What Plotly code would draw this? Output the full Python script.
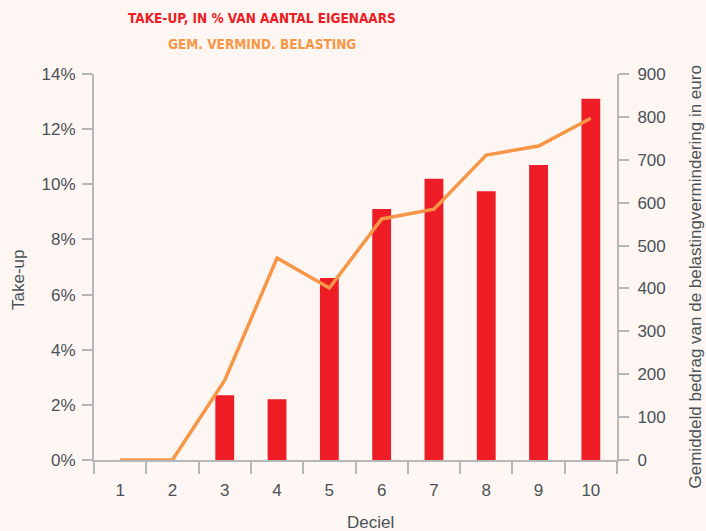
import plotly.graph_objects as go

deciles = ["1", "2", "3", "4", "5", "6", "7", "8", "9", "10"]
take_up_pct = [0, 0, 2.35, 2.2, 6.6, 9.1, 10.2, 9.75, 10.7, 13.1]
avg_reduction_eur = [0, 0, 186, 471, 401, 562, 585, 711, 732, 797]

title_line1 = "TAKE-UP, IN % VAN AANTAL EIGENAARS"
title_line2 = "GEM. VERMIND. BELASTING"
y_title = "Take-up"
y2_title = "Gemiddeld bedrag van de belastingvermindering in euro"
x_title = "Deciel"

BG = "#fef6f3"
AXIS = "#b4b8bb"
TEXT = "#4a5257"
RED = "#ee1c25"
ORANGE = "#f79646"
FONT = "Liberation Sans, Arial, sans-serif"
TITLE_FONT = "DejaVu Sans Condensed, Liberation Sans, Arial, sans-serif"

fig = go.Figure()
fig.add_trace(go.Bar(x=deciles, y=take_up_pct, marker=dict(color=RED, line=dict(width=0)),
                     width=0.36, name=title_line1))
fig.add_trace(go.Scatter(x=deciles, y=avg_reduction_eur, yaxis="y2", mode="lines",
                         line=dict(color=ORANGE, width=3.5), name=title_line2))

# plot area target: x 94..617, y 74..460
fig.update_layout(
    width=706, height=531,
    margin=dict(l=94, r=89, t=74, b=71),
    paper_bgcolor=BG, plot_bgcolor=BG,
    showlegend=False,
    font=dict(family=FONT, size=17, color=TEXT),
    xaxis=dict(type="category", range=[-0.5, 9.5], tickson="boundaries",
               ticks="outside", ticklen=12, tickwidth=2, tickcolor=AXIS,
               showline=True, linecolor=AXIS, linewidth=2, showgrid=False,
               zeroline=False, ticklabelstandoff=14, tickfont=dict(size=17, color=TEXT)),
    yaxis=dict(range=[0, 14], dtick=2, ticksuffix="%", ticks="outside", ticklen=10,
               tickwidth=2, tickcolor=AXIS, showline=True, linecolor=AXIS, linewidth=2,
               showgrid=False, zeroline=False, ticklabelstandoff=3,
               tickfont=dict(size=17, color=TEXT)),
    yaxis2=dict(range=[0, 900], dtick=100, overlaying="y", side="right", ticks="outside",
                ticklen=10, tickwidth=2, tickcolor=AXIS, showline=True, linecolor=AXIS,
                linewidth=2, showgrid=False, zeroline=False, ticklabelstandoff=5,
                tickfont=dict(size=17, color=TEXT)),
    annotations=[
        dict(text="<b>" + title_line1 + "</b>", xref="paper", yref="paper", x=0.3212, y=1.1451,
             showarrow=False, xanchor="center", yanchor="middle",
             font=dict(family=TITLE_FONT, size=13.5, color=RED)),
        dict(text="<b>" + title_line2 + "</b>", xref="paper", yref="paper", x=0.3212, y=1.0777,
             showarrow=False, xanchor="center", yanchor="middle",
             font=dict(family=TITLE_FONT, size=13.5, color=ORANGE)),
        dict(text=y_title, xref="paper", yref="paper", x=-0.1453, y=0.4663, textangle=-90,
             showarrow=False, xanchor="center", yanchor="middle", font=dict(size=17, color=TEXT)),
        dict(text=y2_title, xref="paper", yref="paper", x=1.150, y=0.474, textangle=-90,
             showarrow=False, xanchor="center", yanchor="middle", font=dict(size=17, color=TEXT)),
        dict(text=x_title, xref="paper", yref="paper", x=0.5296, y=-0.1632,
             showarrow=False, xanchor="center", yanchor="middle", font=dict(size=17, color=TEXT)),
    ],
)

fig.write_html("out.html", config={"displayModeBar": False},
               post_script="document.body.style.margin='0';document.body.style.overflow='hidden';")
